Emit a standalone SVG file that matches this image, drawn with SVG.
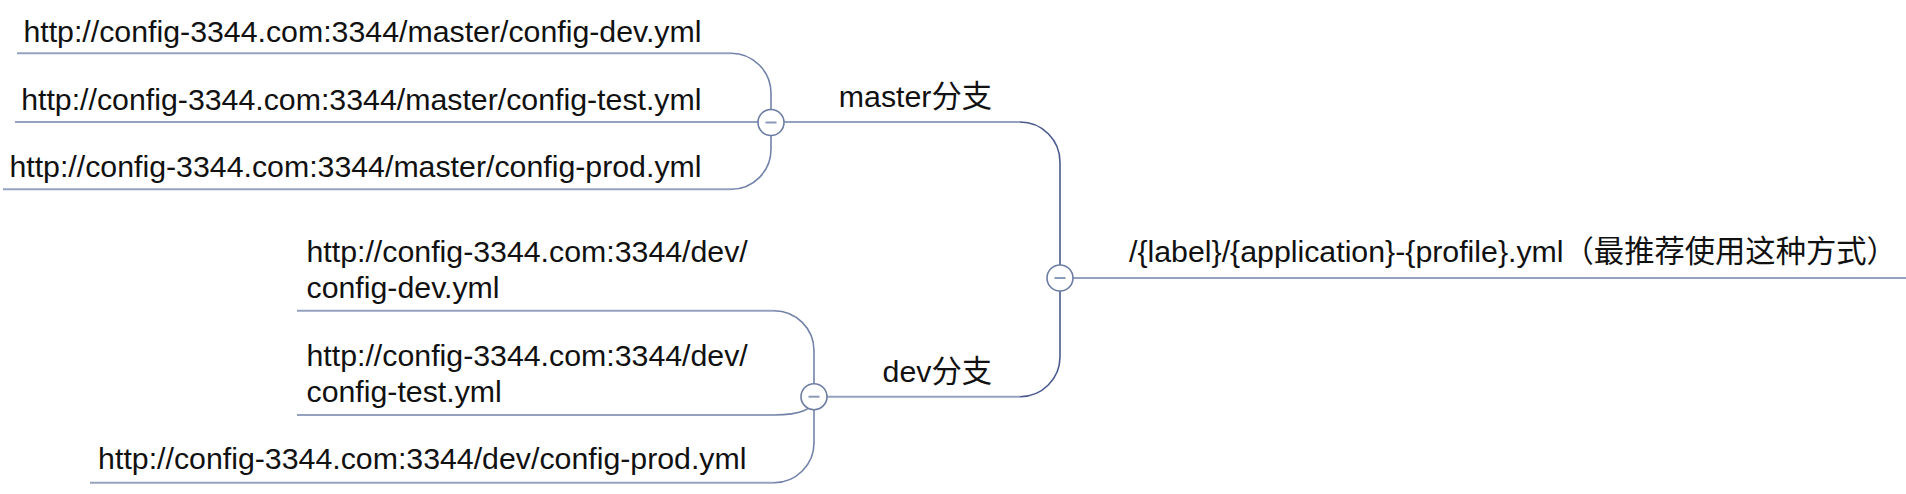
<svg xmlns="http://www.w3.org/2000/svg" width="1906" height="494" viewBox="0 0 1906 494">
<style>
text{font-family:"Liberation Sans",Arial,"Noto Sans CJK SC",sans-serif;font-size:30.3px;fill:#111}
.end{text-anchor:end}
.leaf{fill:none;stroke:#94a2bf;stroke-width:2}
.conn{fill:none;stroke:#7282a8;stroke-width:1.6}
.trunk{fill:none;stroke:#4a5a8c;stroke-width:1.6}
.tog{fill:#fff;stroke:#6c7ca3;stroke-width:1.6}
.minus{stroke:#8a9ab8;stroke-width:2}
</style>
<g id="connectors">
<path class="leaf" d="M17 53.3 H731"/>
<path class="conn" d="M731 53.3 A40 40 0 0 1 771 93.3 V122.5"/>
<path class="leaf" d="M15 122 H771"/>
<path class="leaf" d="M3 189.3 H731"/>
<path class="conn" d="M731 189.3 A40 40 0 0 0 771 149.3 V122.5"/>
<path class="leaf" d="M297 310.7 H774"/>
<path class="conn" d="M774 310.7 A40 40 0 0 1 814 350.7 V396.7"/>
<path class="leaf" d="M297 415 H774"/>
<path class="conn" d="M774 415 C800 415 814 410 814 396.7"/>
<path class="leaf" d="M90 482.7 H774"/>
<path class="conn" d="M774 482.7 A40 40 0 0 0 814 442.7 V396.7"/>
<path class="leaf" d="M771 122 H1020"/>
<path class="trunk" d="M1020 122 A40 40 0 0 1 1060 162 V278"/>
<path class="leaf" d="M814 396.7 H1020"/>
<path class="trunk" d="M1020 396.7 A40 40 0 0 0 1060 356.7 V278"/>
<path class="leaf" d="M1060 278 H1906"/>
</g>
<g id="root">
<text x="1129" y="262">/{label}/{application}-{profile}.yml（最推荐使用这种方式）</text>
<circle class="tog" cx="1060" cy="278" r="13"/>
<line class="minus" x1="1054.5" y1="278" x2="1065.5" y2="278"/>
</g>
<g id="master">
<text class="end" x="992" y="107">master分支</text>
<circle class="tog" cx="771" cy="122.5" r="13"/>
<line class="minus" x1="765.5" y1="122.5" x2="776.5" y2="122.5"/>
</g>
<g id="dev">
<text class="end" x="992" y="382">dev分支</text>
<circle class="tog" cx="814" cy="396.7" r="13"/>
<line class="minus" x1="808.5" y1="396.7" x2="819.5" y2="396.7"/>
</g>
<g id="master-dev"><text class="end" x="701.5" y="41.5">http://config-3344.com:3344/master/config-dev.yml</text></g>
<g id="master-test"><text class="end" x="701.5" y="110">http://config-3344.com:3344/master/config-test.yml</text></g>
<g id="master-prod"><text class="end" x="701.5" y="177">http://config-3344.com:3344/master/config-prod.yml</text></g>
<g id="dev-dev"><text x="306.5" y="261.7">http://config-3344.com:3344/dev/</text><text x="306.5" y="298.3">config-dev.yml</text></g>
<g id="dev-test"><text x="306.5" y="365.5">http://config-3344.com:3344/dev/</text><text x="306.5" y="402">config-test.yml</text></g>
<g id="dev-prod"><text class="end" x="746.5" y="468.5">http://config-3344.com:3344/dev/config-prod.yml</text></g>
</svg>
